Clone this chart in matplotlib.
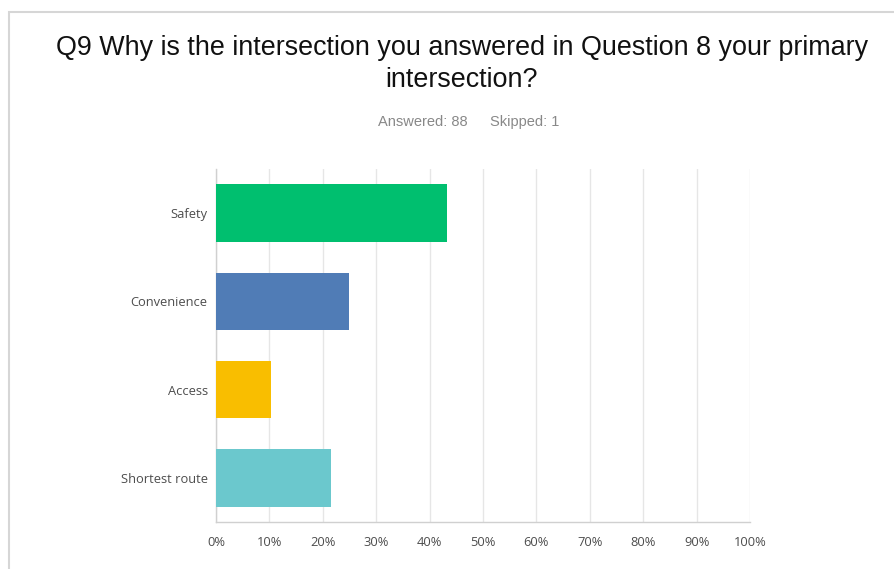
import matplotlib.pyplot as plt
from matplotlib.patches import Rectangle

# survey results (Q9, 88 answered)
categories = ['Safety', 'Convenience', 'Access', 'Shortest route']
percent = [43.18, 25.00, 10.23, 21.59]
colors = ['#00BF6F', '#507CB6', '#F9BE00', '#6BC8CD']
ticks = list(range(0, 101, 10))
tick_labels = [f'{t}%' for t in ticks]

fig = plt.figure(figsize=(8.95, 5.69), dpi=100)

# light frame around the panel
fig.patches.append(Rectangle((9 / 895, -0.01), 1.0, 1 - 12 / 569 + 0.01,
                             transform=fig.transFigure, fill=False,
                             edgecolor='#d6d6d6', linewidth=1.5))

ax = fig.add_axes([216 / 895, 1 - 522 / 569, 534 / 895, 353 / 569])
y = list(range(len(categories)))
ax.barh(y, percent, height=0.65, color=colors, zorder=3)
ax.set_ylim(len(categories) - 0.5, -0.5)
ax.set_xlim(0, 100)

ax.set_yticks(y)
ax.set_yticklabels(categories, fontsize=9.3, color='#4d4d4d', family='Open Sans')
ax.set_xticks(ticks)
ax.set_xticklabels(tick_labels, fontsize=9.3, color='#4d4d4d', family='Open Sans')
ax.tick_params(axis='both', length=0)
ax.tick_params(axis='x', pad=10)
ax.tick_params(axis='y', pad=6)

ax.grid(axis='x', color='#e6e6e6', linewidth=1, zorder=0)
for side in ['top', 'right']:
    ax.spines[side].set_visible(False)
for side in ['left', 'bottom']:
    ax.spines[side].set_color('#d0d0d0')
    ax.spines[side].set_linewidth(1)

fig.text(462 / 895, 1 - 64 / 569,
         'Q9 Why is the intersection you answered in Question 8 your primary\nintersection?',
         ha='center', va='center', fontsize=19.4, color='#111111',
         family='Liberation Sans', linespacing=1.27)
fig.text(423 / 895, 1 - 122 / 569, 'Answered: 88', ha='center', va='center',
         fontsize=10.5, color='#888888', family='Liberation Sans')
fig.text(525 / 895, 1 - 122 / 569, 'Skipped: 1', ha='center', va='center',
         fontsize=10.5, color='#888888', family='Liberation Sans')

fig.savefig('out.png', dpi=100)
